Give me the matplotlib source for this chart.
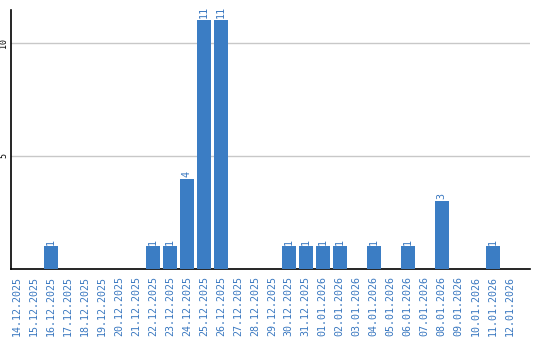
import matplotlib
matplotlib.use("Agg")
import matplotlib.pyplot as plt

# daily counts
dates = ["14.12.2025", "15.12.2025", "16.12.2025", "17.12.2025", "18.12.2025",
         "19.12.2025", "20.12.2025", "21.12.2025", "22.12.2025", "23.12.2025",
         "24.12.2025", "25.12.2025", "26.12.2025", "27.12.2025", "28.12.2025",
         "29.12.2025", "30.12.2025", "31.12.2025", "01.01.2026", "02.01.2026",
         "03.01.2026", "04.01.2026", "05.01.2026", "06.01.2026", "07.01.2026",
         "08.01.2026", "09.01.2026", "10.01.2026", "11.01.2026", "12.01.2026"]
counts = [0, 0, 1, 0, 0, 0, 0, 0, 1, 1,
          4, 11, 11, 0, 0, 0, 1, 1, 1, 1,
          0, 1, 0, 1, 0, 3, 0, 0, 1, 0]
y_ticks = [5, 10]

bar_color = "#3b7dc4"
label_color = "#3a78c0"

fig = plt.figure(figsize=(5.4, 3.4), dpi=100)
ax = fig.add_axes([11 / 540, 71 / 340, 519 / 540, 259 / 340])

x = list(range(len(dates)))
ax.bar(x, counts, width=0.82, color=bar_color, zorder=3)

for xi, c in zip(x, counts):
    if c > 0:
        ax.text(xi, c + 0.08, str(c), rotation=90, ha="center", va="bottom",
                color=label_color, fontsize=7.3, family="DejaVu Sans Mono")

ax.set_xlim(-0.35, 30.2)
ax.set_ylim(0, 11.45)

ax.set_yticks(y_ticks)
ax.set_yticklabels([str(t) for t in y_ticks], rotation=90, va="center",
                   fontsize=6, family="DejaVu Sans Mono")
ax.tick_params(axis="y", length=0, pad=2)
ax.grid(axis="y", color="#c8c8c8", linewidth=1, zorder=0)

ax.set_xticks(x)
ax.set_xticklabels(dates, rotation=90, color=label_color, fontsize=7.2,
                   family="DejaVu Sans Mono")
ax.tick_params(axis="x", length=0, pad=5)

for s in ["top", "right"]:
    ax.spines[s].set_visible(False)
ax.spines["left"].set_color("black")
ax.spines["bottom"].set_color("black")
ax.spines["left"].set_linewidth(1.2)
ax.spines["bottom"].set_linewidth(1.2)

fig.savefig("out.png", dpi=100)
